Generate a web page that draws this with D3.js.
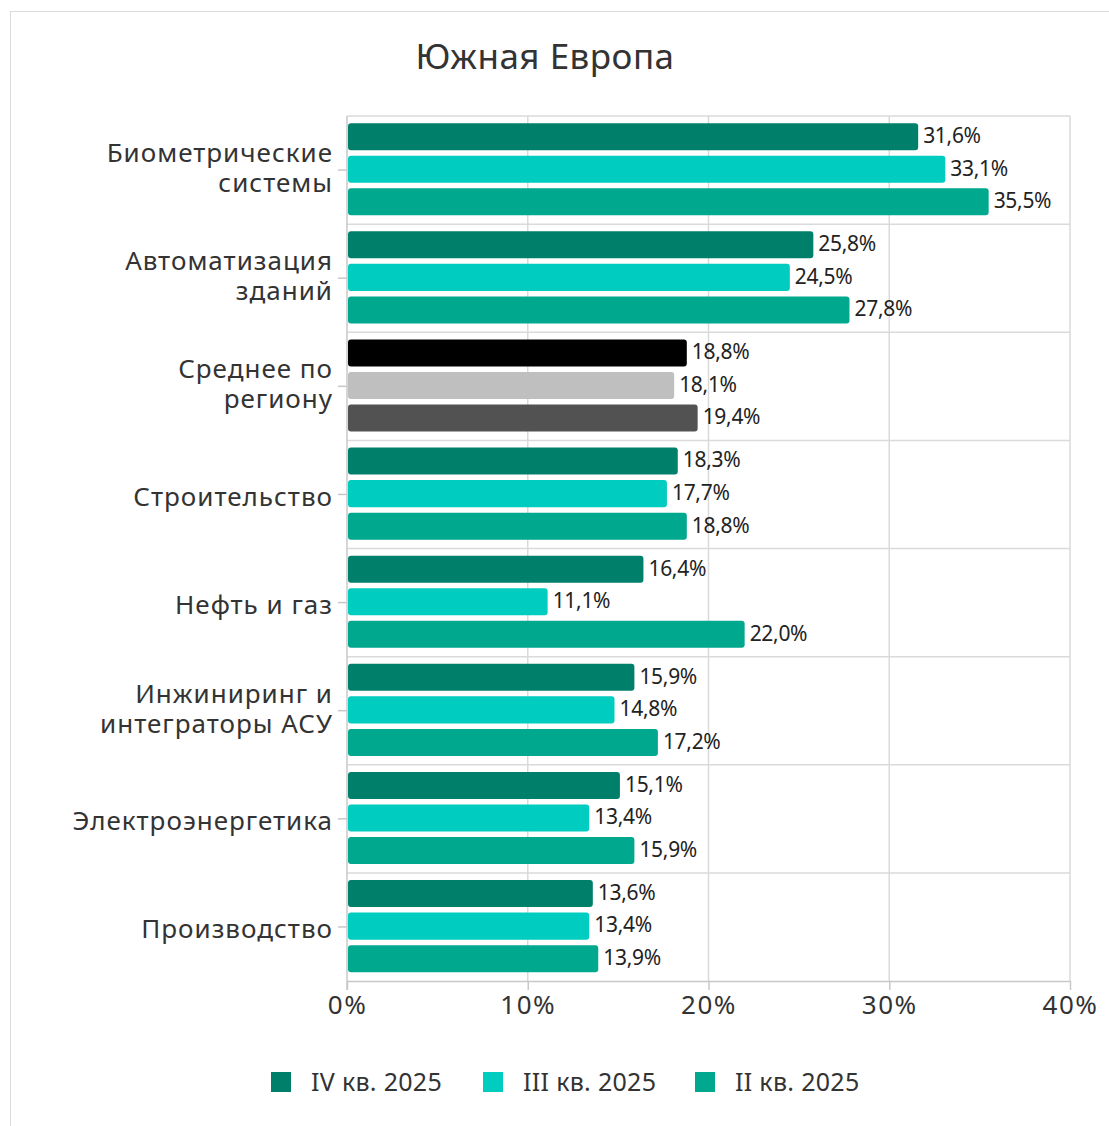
<!DOCTYPE html>
<html>
<head>
<meta charset="utf-8">
<script src="https://cdn.jsdelivr.net/npm/d3@7"></script>
<style>
  body { margin: 0; background: #fff; }
  svg { display: block; font-family: "Noto Sans", sans-serif; }
</style>
</head>
<body>
<div id="chart"></div>
<script>
const categories = [
  ["Биометрические", "системы"],
  ["Автоматизация", "зданий"],
  ["Среднее по", "региону"],
  ["Строительство"],
  ["Нефть и газ"],
  ["Инжиниринг и", "интеграторы АСУ"],
  ["Электроэнергетика"],
  ["Производство"]
];
const seriesNames = ["IV кв. 2025", "III кв. 2025", "II кв. 2025"];
const q4 = [31.6, 25.8, 18.8, 18.3, 16.4, 15.9, 15.1, 13.6];
const q3 = [33.1, 24.5, 18.1, 17.7, 11.1, 14.8, 13.4, 13.4];
const q2 = [35.5, 27.8, 19.4, 18.8, 22.0, 17.2, 15.9, 13.9];
const xTicks = [0, 10, 20, 30, 40];

const colors = ["#00806a", "#00ccc0", "#00a88e"];
const avgColors = ["#000000", "#bfbfbf", "#525252"];
const avgIndex = 2;

const W = 1109, H = 1126;
const margin = { top: 116, left: 347, right: 39, bottom: 145 };
const width = W - margin.left - margin.right;
const height = H - margin.top - margin.bottom;

const svgRoot = d3.select("#chart").append("svg").attr("width", W).attr("height", H);

// outer frame
svgRoot.append("rect")
  .attr("x", 10.5).attr("y", 11.5).attr("width", W).attr("height", H)
  .attr("fill", "none").attr("stroke", "#dcdcdc");

svgRoot.append("text")
  .attr("x", 545).attr("y", 69)
  .attr("text-anchor", "middle")
  .style("font-size", "35px").style("fill", "#333")
  .style("letter-spacing", "0.5px")
  .text("Южная Европа");

const svg = svgRoot.append("g").attr("transform", `translate(${margin.left},${margin.top})`);

const data = categories.map((c, i) => ({ idx: i, label: c, values: [q4[i], q3[i], q2[i]] }));

const x = d3.scaleLinear().domain([0, 40]).range([0, width]);
const y0 = d3.scaleBand().domain(d3.range(categories.length)).range([0, height]);
const y1 = d3.scaleBand().domain([0, 1, 2]).range([0, y0.bandwidth()])
  .paddingInner(0.17).paddingOuter(0.245).align(0.45);

// vertical gridlines
svg.append("g").selectAll("line")
  .data(xTicks.slice(1))
  .join("line")
  .attr("x1", d => x(d)).attr("x2", d => x(d))
  .attr("y1", 0).attr("y2", height)
  .attr("stroke", "#dadada").attr("stroke-width", 1.5);

// horizontal separators
svg.append("g").selectAll("line")
  .data(d3.range(categories.length))
  .join("line")
  .attr("x1", 0).attr("x2", width)
  .attr("y1", d => y0(d)).attr("y2", d => y0(d))
  .attr("stroke", "#dadada").attr("stroke-width", 1.5);

const groups = svg.selectAll(".grp")
  .data(data)
  .join("g")
  .attr("class", "grp")
  .attr("transform", d => `translate(0,${y0(d.idx)})`);

groups.selectAll("rect")
  .data(d => d.values.map((v, j) => ({ v, j, avg: d.idx === avgIndex })))
  .join("rect")
  .attr("x", 1)
  .attr("y", d => y1(d.j))
  .attr("width", d => x(d.v) - 1)
  .attr("height", y1.bandwidth())
  .attr("rx", 3)
  .attr("fill", d => d.avg ? avgColors[d.j] : colors[d.j]);

groups.selectAll("text.val")
  .data(d => d.values.map((v, j) => ({ v, j })))
  .join("text")
  .attr("class", "val")
  .attr("x", d => x(d.v) + 5)
  .attr("y", d => y1(d.j) + y1.bandwidth() / 2 - 1)
  .attr("dy", "0.35em")
  .style("font-size", "21px").style("fill", "#222")
  .style("letter-spacing", "-0.3px")
  .text(d => d.v.toFixed(1).replace(".", ",") + "%");

// bottom axis
const xAxis = svg.append("g")
  .attr("transform", `translate(0,${height})`)
  .call(d3.axisBottom(x).tickValues(xTicks).tickFormat(d => d + "%").tickSize(9).tickSizeOuter(0));
xAxis.select(".domain").attr("stroke", "#c8c8c8").attr("stroke-width", 1.5);
xAxis.selectAll(".tick line").attr("stroke", "#c8c8c8").attr("stroke-width", 1.5);
xAxis.selectAll("text")
  .attr("y", 15)
  .style("font-size", "26px").style("fill", "#333")
  .style("font-family", "Noto Sans").style("letter-spacing", "1.5px");

// left axis
const yAxis = svg.append("g")
  .call(d3.axisLeft(y0).tickSize(9).tickSizeOuter(0).tickFormat(""));
yAxis.select(".domain").remove();
yAxis.selectAll(".tick line").attr("stroke", "#c8c8c8").attr("stroke-width", 1.5);
svg.append("line")
  .attr("x1", 0).attr("x2", 0).attr("y1", 0).attr("y2", height + 9)
  .attr("stroke", "#c8c8c8").attr("stroke-width", 1.5);

const catLabels = svg.append("g").selectAll("text")
  .data(data)
  .join("text")
  .attr("x", -14)
  .attr("y", d => y0(d.idx) + y0.bandwidth() / 2 + (d.label.length > 1 ? -2 : 2))
  .attr("text-anchor", "end")
  .style("font-size", "26px").style("fill", "#333")
  .style("letter-spacing", "1px");
catLabels.selectAll("tspan")
  .data(d => d.label.map((t, k) => ({ t, k, n: d.label.length })))
  .join("tspan")
  .attr("x", -14)
  .attr("dy", d => d.k === 0 ? (d.n === 1 ? "0.35em" : "-0.225em") : "1.15em")
  .text(d => d.t);

// legend
const legendX = [271, 483, 695];
const legend = svgRoot.append("g").selectAll("g")
  .data(seriesNames)
  .join("g")
  .attr("transform", (d, i) => `translate(${legendX[i]},1072)`);
legend.append("rect")
  .attr("width", 20).attr("height", 20)
  .attr("fill", (d, i) => colors[i]);
legend.append("text")
  .attr("x", 40).attr("y", 10).attr("dy", "0.35em")
  .style("font-size", "25px").style("fill", "#333")
  .style("letter-spacing", "0.3px")
  .text(d => d);
</script>
</body>
</html>
